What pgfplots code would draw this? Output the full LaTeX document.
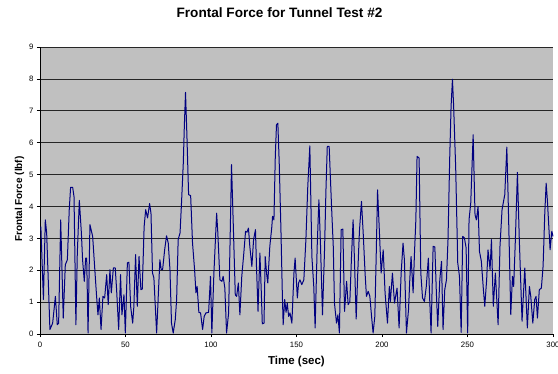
\documentclass[border=0pt]{standalone}
\usepackage{pgfplots}
\pgfplotsset{compat=1.18}
\usepackage{fontspec}
\setmainfont{Liberation Sans}
\definecolor{excelgray}{RGB}{192,192,192}
\definecolor{navyline}{RGB}{0,0,128}
\begin{document}
\begin{tikzpicture}
\useasboundingbox (0pt,0pt) rectangle (558pt,373pt);
\node[font=\fontsize{13.6}{15}\selectfont\bfseries] at (279.5pt,360pt) {Frontal Force for Tunnel Test \#2};
\begin{axis}[
  at={(40pt,39pt)}, anchor=south west,
  scale only axis, width=513pt, height=287pt,
  xmin=0, xmax=300, ymin=0, ymax=9,
  xtick={0,50,...,300}, ytick={0,1,...,9},
  axis lines=left, axis line style={-, black, line width=0.7pt},
  tick align=outside, major tick length=3pt,
  tick style={black, line width=0.6pt},
  ymajorgrids, grid style={black!85, line width=0.6pt},
  axis background/.style={fill=excelgray},
  /pgf/number format/assume math mode=true,
  ticklabel style={font=\fontsize{7.8}{9}\selectfont},
  xticklabel style={yshift=-2pt},
  xlabel={Time (sec)},
  ylabel={Frontal Force (lbf)},
  xlabel style={font=\fontsize{11.5}{13}\selectfont\bfseries, at={(axis description cs:0.5,-0.0976)}, anchor=center},
  ylabel style={font=\fontsize{10}{12}\selectfont\bfseries, at={(axis description cs:-0.04,0.47)}, anchor=center, rotate=0},
  clip=false,
]
\addplot[navyline, line width=1pt, line join=round] coordinates {
(0.5,3.37) (2,1.08) (3.1,3.58) (3.9,3.17) (5.8,0.14) (7.4,0.34) (9,1.18) (10.1,0.29) (10.9,0.34)
(12.1,3.58) (13.6,0.5) (14.8,2.17) (16,2.33) (17.1,3.9) (17.9,4.6) (19.1,4.6) (19.9,4.3) (21,0.29)
(21.8,2.5) (23,4.19) (24.2,3.17) (24.9,2.33) (25.9,1.65) (26.7,2.38) (27.3,2.38) (28.1,0.03)
(29.2,3.43) (30.8,3.06) (31.8,2.23) (33.1,1.18) (33.9,0.6) (34.7,1.13) (35.7,0.14) (36.8,1.18)
(37.8,1.13) (39,1.86) (39.9,0.92) (40.9,2.02) (41.7,1.29) (42.9,2.07) (44,2.07) (44.8,1.39)
(46,0.14) (47.1,1.86) (47.9,0.6) (49.1,1.23)
(49.9,0.03) (51.1,2.23) (52,2.25) (53,0.87) (54.2,0.34) (54.9,0.87) (55.9,2.49) (56.9,0.87)
(57.9,2.43) (59,1.39) (59.8,1.41) (60.9,3.37) (61.8,3.9) (62.9,3.64) (64.1,4.09) (64.9,3.79)
(65.8,1.91) (66.6,1.76) (68.2,0.03) (68.9,0.87) (70.1,2.33) (70.9,2.02) (71.7,2.02) (72.9,2.64)
(74,3.08) (75,2.85) (76,2.02) (76.9,0.34) (77.9,0.03) (79.1,0.45) (79.9,1.08) (80.8,2.96)
(81.9,3.17) (82.8,4.16) (83.8,5.36) (84.4,6.51) (85.1,7.58) (85.9,6.25) (86.9,4.37) (88.1,4.34)
(89.2,2.85) (90.4,2.02) (91.2,1.29) (91.9,1.49) (92.9,0.68) (93.9,0.66) (95.1,0.14) (96,0.55)
(97,0.66) (98.6,0.68) (99.7,1.81) (100.5,0.03)
(101.7,1.91) (103.3,3.79) (104,3.17) (105.2,1.70) (106.4,1.65) (107.1,1.81) (108.1,1.44)
(109.1,0.03) (110.3,0.66) (111.1,2.75) (112,5.31) (113,3.48) (114.2,1.23) (115,1.18) (116,1.6)
(116.9,0.6) (118,1.81) (119.2,2.54) (120.2,3.22) (121,3.19) (121.9,3.32) (122.7,2.75) (123.9,2.12)
(124.9,2.96) (126,3.27) (126.6,2.12) (127.5,0.71) (128.6,2.54) (129.4,1.34) (130,0.32) (131,0.34)
(131.7,2.43) (132.6,1.86) (133.2,1.6) (134.4,2.75) (135.5,3.32) (136,3.69) (136.8,3.58)
(137.6,5.57) (138.3,6.56) (139.1,6.61) (139.9,5.36) (140.9,3.27) (141.7,1.29) (142.2,0.29)
(143.1,1.08) (143.9,0.68) (144.6,0.97) (145.4,0.55) (146.2,0.66) (147.3,0.34) (148.5,1.91)
(149.2,2.38) (150.5,1.13) (151.2,1.6) (152,1.7) (153.1,1.55) (154.3,1.7)
(155.5,2.96) (156.6,4.63) (157.8,5.9) (159,2.43) (160.1,1.49) (160.9,0.19) (162.1,2.75)
(163.1,4.21) (164,2.85) (165.2,0.6) (166.4,2.64) (167.2,4.47) (168,5.88) (169.1,5.88) (170.5,4.0)
(171.5,2.75) (172.2,0.97) (173.4,0.34) (174.2,0.6) (175.1,0.03) (176.1,3.27) (177.1,3.29)
(178.1,0.71) (179.3,1.65) (180.2,0.92) (181.2,1.02) (182.1,2.33) (183.1,3.58) (183.9,2.33)
(184.9,0.47) (185.9,2.02) (186.8,3.22) (188,4.16) (189,3.17) (190.1,1.91) (190.9,1.18)
(191.9,1.34) (192.9,1.18) (193.9,0.55) (194.8,0.03) (195.8,0.55) (196.6,2.43) (197.4,4.52)
(198.3,3.43) (199.5,1.91) (200.7,2.64) (201.8,1.29) (203.2,0.34) (204.3,1.49) (204.9,1.02)
(206.1,1.91) (207.3,0.97)
(208.8,1.44) (210,0.19) (211.2,1.91) (212.3,2.85) (213.1,2.33) (214.3,0.03) (215.5,0.76)
(216.3,1.76) (217,2.43) (218.2,1.29) (219,2.54) (219.8,3.58) (220.5,5.57) (221.7,5.52)
(222.7,1.91) (223.7,1.13) (224.8,1.02) (225.9,1.49) (227.1,2.38) (227.9,1.08) (228.7,0.03)
(229.9,2.75) (230.9,2.73) (231.8,1.29) (232.6,0.24) (233.8,1.7) (234.8,2.28) (235.7,0.14)
(236.7,1.39) (237.7,1.7) (238.6,2.96) (239.6,5.52) (240.4,7.14) (241.2,7.99) (241.9,7.14)
(243.1,5.2) (244.3,2.23) (245.3,1.81) (246.3,0.05) (247.2,3.06) (248.2,3.01) (249.2,2.7)
(250.1,0.03) (250.9,3.58) (251.9,4.11) (253.3,6.25) (254.4,3.74) (255.2,3.58) (256.2,4.0)
(257,2.59) (258.1,2.28) (259.3,1.39) (260.1,0.87) (261.2,1.7) (262,2.64) (263.2,2.02) (264,2.96)
(265.1,0.87) (266.3,1.91) (267.9,0.29) (269,2.75) (270.2,3.9) (271.8,4.37) (273,5.86) (273.7,4.42)
(274.5,2.54) (275.3,0.61) (276.3,1.81) (277,1.49) (278,2.96) (279.2,5.07) (280.3,2.96)
(281.9,0.4) (283.5,2.07) (285,0.19) (286.2,1.49) (287,1.18) (288.2,0.34) (289.3,1.08)
(290.1,1.18) (290.9,0.5) (292,1.39) (293.2,1.44) (294.2,2.12) (295.2,3.79) (296,4.73)
(296.7,4.21) (298.3,2.64) (299.3,3.22) (300,3.06)
};
\end{axis}
\end{tikzpicture}
\end{document}
